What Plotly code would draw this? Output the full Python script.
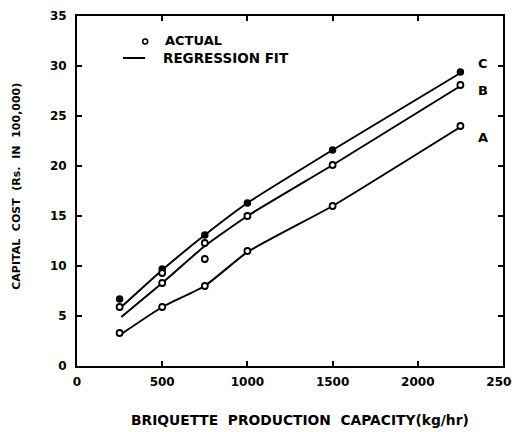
import plotly.graph_objects as go

# Actual data points
x_c_act = [250, 500, 750, 1000, 1500, 2250]
y_c_act = [6.7, 9.7, 13.1, 16.3, 21.6, 29.4]
x_b_act = [250, 500, 500, 750, 750, 1000, 1500, 2250]
y_b_act = [5.9, 8.3, 9.3, 12.3, 10.7, 15.0, 20.1, 28.1]
x_a_act = [250, 500, 750, 1000, 1500, 2250]
y_a_act = [3.3, 5.9, 8.0, 11.5, 16.0, 24.0]

# Regression fit curves
x_fit = [260, 500, 750, 1000, 1500, 2250]
y_c_fit = [5.9, 9.6, 13.1, 16.3, 21.6, 29.3]
y_b_fit = [4.9, 8.3, 12.0, 15.0, 20.1, 28.0]
y_a_fit = [3.2, 5.9, 8.0, 11.4, 16.0, 23.9]

curve_labels = ["C", "B", "A"]
label_y = [30.3, 27.6, 22.9]
label_x = 2340

x_ticks = [0, 500, 1000, 1500, 2000, 2500]
y_ticks = [0, 5, 10, 15, 20, 25, 30, 35]

FONT = "DejaVu Sans"
NB = "\u00a0"
fig = go.Figure()

for yf in [y_c_fit, y_b_fit, y_a_fit]:
    fig.add_trace(go.Scatter(x=x_fit, y=yf, mode="lines",
                             line=dict(color="black", width=2, shape="spline", smoothing=0.4),
                             showlegend=False, hoverinfo="skip"))

fig.add_trace(go.Scatter(x=x_c_act, y=y_c_act, mode="markers",
                         marker=dict(symbol="circle", size=6, color="black",
                                     line=dict(color="black", width=1.5)),
                         showlegend=False))
for xa, ya in [(x_b_act, y_b_act), (x_a_act, y_a_act)]:
    fig.add_trace(go.Scatter(x=xa, y=ya, mode="markers",
                             marker=dict(symbol="circle", size=6, color="white",
                                         line=dict(color="black", width=1.8)),
                             showlegend=False))

for lab, ly in zip(curve_labels, label_y):
    fig.add_annotation(x=label_x, y=ly, text="<b>" + lab + "</b>", showarrow=False,
                       xanchor="left", yanchor="middle",
                       font=dict(family=FONT, size=13, color="black"))

# manual legend
fig.add_shape(type="circle", xref="paper", yref="paper", xsizemode="pixel",
              ysizemode="pixel", xanchor=0.16, yanchor=0.927,
              x0=-2.5, x1=2.5, y0=-2.5, y1=2.5,
              line=dict(color="black", width=1.5), fillcolor="white")
fig.add_shape(type="line", xref="paper", yref="paper",
              x0=0.108, x1=0.160, y0=0.88, y1=0.88,
              line=dict(color="black", width=2))
fig.add_annotation(xref="paper", yref="paper", x=0.203, y=0.929,
                   text="<b>ACTUAL</b>", showarrow=False, xanchor="left",
                   yanchor="middle", font=dict(family=FONT, size=13, color="black"))
fig.add_annotation(xref="paper", yref="paper", x=0.198, y=0.88,
                   text="<b>REGRESSION" + NB + "FIT</b>", showarrow=False, xanchor="left",
                   yanchor="middle", font=dict(family=FONT, size=13.5, color="black"))

# axis titles
xt = "BRIQUETTE PRODUCTION CAPACITY(kg/hr)".replace(" ", NB + NB)
yt = "CAPITAL COST (Rs. IN 100,000)".replace(" ", NB + NB)
fig.add_annotation(xref="paper", yref="paper", x=0.524, y=-0.154,
                   text="<b>" + xt + "</b>", showarrow=False,
                   xanchor="center", yanchor="middle",
                   font=dict(family=FONT, size=13.8, color="black"))
fig.add_annotation(xref="paper", yref="paper", x=-0.144, y=0.514,
                   text="<b>" + yt + "</b>", showarrow=False,
                   textangle=-90, xanchor="center", yanchor="middle",
                   font=dict(family=FONT, size=11, color="black"))

axis_common = dict(showgrid=False, zeroline=False, showline=True, linecolor="black",
                   linewidth=2, mirror="ticks", ticks="inside", ticklen=5,
                   tickwidth=1.5, tickcolor="black", automargin=False,
                   tickfont=dict(family=FONT, size=12, color="black"))

fig.update_xaxes(range=[0, 2500], tickvals=x_ticks,
                 ticktext=["<b>%d</b>" % v for v in x_ticks],
                 ticklabelstandoff=4, **axis_common)
fig.update_yaxes(range=[0, 35], tickvals=y_ticks,
                 ticktext=["<b>%d</b>" % v for v in y_ticks],
                 ticklabelstandoff=6, **axis_common)

fig.update_layout(width=512, height=424, plot_bgcolor="white", paper_bgcolor="white",
                  margin=dict(l=69, r=17, t=8, b=66), showlegend=False)

fig.write_html("out.html")
